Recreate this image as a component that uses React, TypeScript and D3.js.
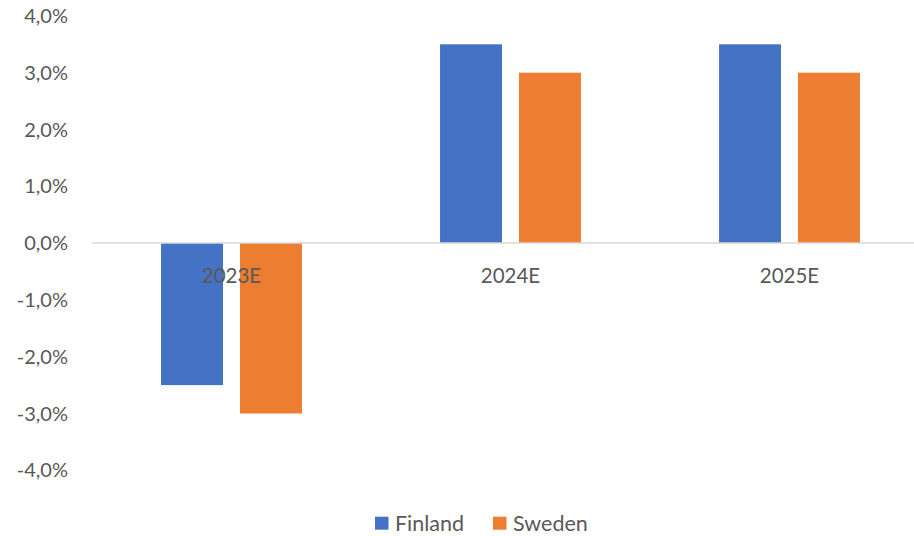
import React from "react";
import * as d3 from "d3";

const categories = ["2023E", "2024E", "2025E"];
const seriesNames = ["Finland", "Sweden"];
const finland = [-2.5, 3.5, 3.5];
const sweden = [-3.0, 3.0, 3.0];
const yTicks = [-4, -3, -2, -1, 0, 1, 2, 3, 4];
const colors = ["#4472C4", "#ED7D31"];

const W = 914;
const H = 536;
const FONT = "Lato, 'Open Sans', sans-serif";
const TEXT = "#595959";

export default function App() {
  const series = [finland, sweden];
  const x = d3.scaleBand<string>().domain(categories).range([92, 929]).paddingInner(0).paddingOuter(0);
  const bandW = x.bandwidth();
  const barW = bandW * 0.222;
  const gap = bandW * 0.061;
  const groupW = barW * 2 + gap;
  const y = d3.scaleLinear().domain([-4, 4]).range([470.3, 15.9]);
  const fmt = (v: number) => v.toFixed(1).replace(".", ",") + "%";

  return (
    <svg width={W} height={H} style={{ position: "absolute", left: 0, top: 0, background: "#fff" }}>
      {yTicks.map((t) => (
        <text key={t} x={68} y={y(t)} dy="0.35em" textAnchor="end" fontFamily={FONT} fontSize={20} fill={TEXT}>
          {fmt(t)}
        </text>
      ))}
      {categories.map((c, i) =>
        series.map((s, j) => {
          const v = s[i];
          const x0 = (x(c) as number) + (bandW - groupW) / 2 + j * (barW + gap);
          return (
            <rect
              key={c + j}
              x={x0}
              y={Math.min(y(v), y(0))}
              width={barW}
              height={Math.abs(y(v) - y(0))}
              fill={colors[j]}
            />
          );
        })
      )}
      <line x1={92} x2={929} y1={y(0)} y2={y(0)} stroke="#D9D9D9" strokeWidth={1.5} />
      {categories.map((c) => (
        <text
          key={c}
          x={(x(c) as number) + bandW / 2}
          y={276}
          dy="0.35em"
          textAnchor="middle"
          fontFamily={FONT}
          fontSize={20.5}
          fill={TEXT}
        >
          {c}
        </text>
      ))}
      {seriesNames.map((n, j) => {
        const lx = [375, 493][j];
        return (
          <g key={n}>
            <rect x={lx} y={516.7} width={13.5} height={13} fill={colors[j]} />
            <text x={lx + 20} y={523} dy="0.35em" fontFamily={FONT} fontSize={21.5} fill={TEXT}>
              {n}
            </text>
          </g>
        );
      })}
    </svg>
  );
}
